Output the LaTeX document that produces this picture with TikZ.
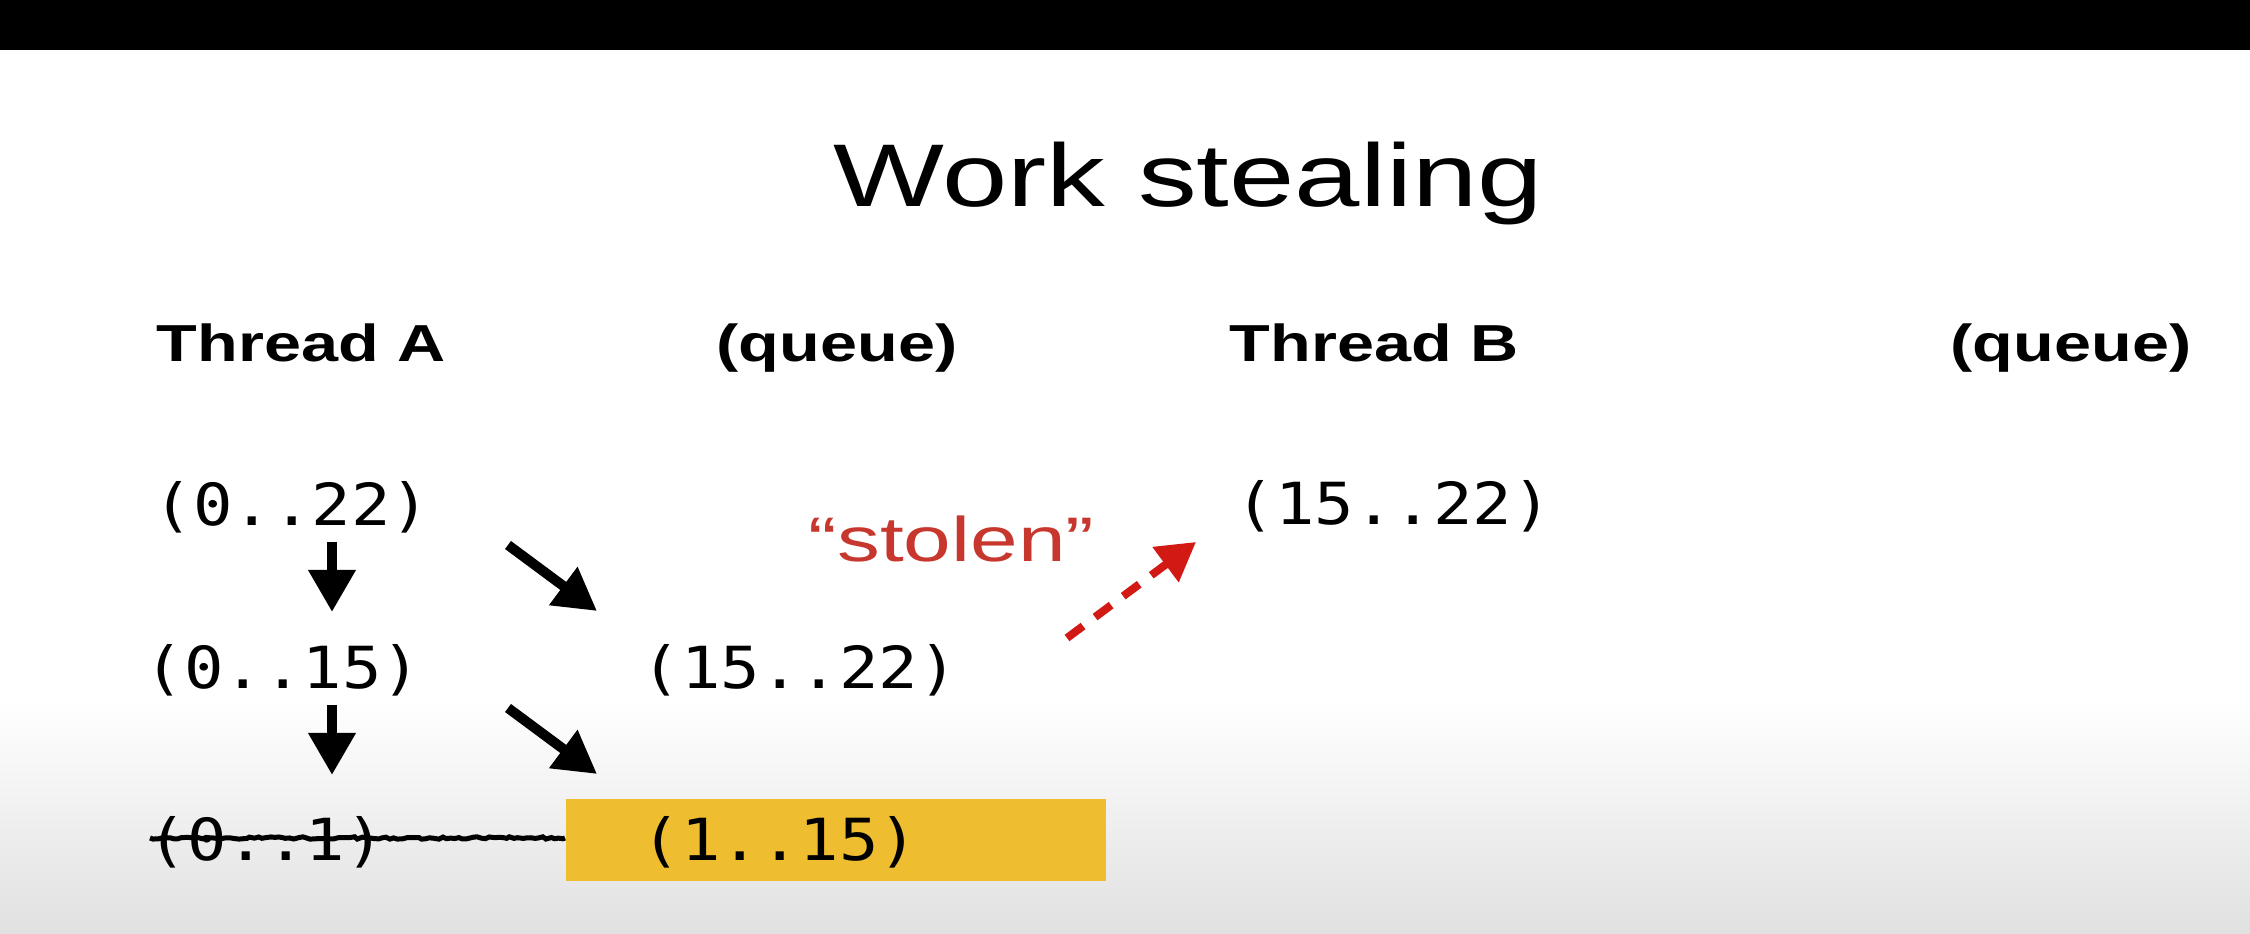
\documentclass[tikz,border=0pt]{standalone}
\usepackage{fontspec}
\usetikzlibrary{arrows.meta,decorations.pathmorphing}
\newfontfamily\titlefont[FakeStretch=1.32]{Liberation Sans}
\newfontfamily\labelfont[FakeStretch=1.28]{Liberation Sans}
\newfontfamily\notefont[FakeStretch=1.36]{Liberation Sans}
\newfontfamily\codefont[FakeStretch=1.13]{DejaVu Sans Mono}
\definecolor{slideyellow}{RGB}{238,190,48}
\definecolor{stolenred}{RGB}{200,55,45}
\definecolor{arrowred}{RGB}{210,25,20}
\begin{document}
\begin{tikzpicture}[x=0.01cm,y=-0.01cm,
  titletext/.style={font=\titlefont\fontsize{25.3}{30}\selectfont, inner sep=0, anchor=base west},
  headtext/.style={font=\labelfont\bfseries\fontsize{14.8}{18}\selectfont, inner sep=0, anchor=base west},
  rangetext/.style={font=\codefont\fontsize{16.5}{20}\selectfont, inner sep=0, anchor=west},
  notetext/.style={font=\notefont\fontsize{17.9}{21}\selectfont, text=stolenred, inner sep=0, anchor=base west},
  split/.style={-{Triangle[length=0.42cm,width=0.45cm]}, line width=0.1cm},
  steal/.style={-{Triangle[length=0.38cm,width=0.42cm]}, line width=0.08cm, arrowred, dash pattern=on 0.2cm off 0.15cm},
]
% page and background
\useasboundingbox (0,0) rectangle (2250,934);
\fill[white] (0,0) rectangle (2250,934);
\shade[top color=white, bottom color=black!12] (0,700) rectangle (2250,934);
\fill[black] (0,0) rectangle (2250,50);

% title and column heads
\node[titletext] (title) at (833,207) {Work stealing};
\node[headtext] (thA) at (156,362) {Thread A};
\node[headtext] (qA) at (716,362) {(queue)};
\node[headtext] (thB) at (1229,362) {Thread B};
\node[headtext] (qB) at (1950,362) {(queue)};

% queue slot holding the remaining work
\node[fill=slideyellow, minimum width=5.4cm, minimum height=0.82cm, inner sep=0, anchor=north west] (slot) at (565,798) {};

% ranges
\node[rangetext] (r022) at (153,507) {(0..22)};
\node[rangetext] (r015) at (144,670) {(0..15)};
\node[rangetext] (q1522) at (641,670) {(15..22)};
\node[rangetext] (b1522) at (1235,506) {(15..22)};
\node[rangetext] (r01) at (147,842) {(0..1)};
\node[rangetext] (q115) at (641,842) {(1..15)};

% struck-out finished range
\coordinate (strikeL) at (150,838);
\draw[line width=0.05cm, decorate, decoration={random steps, segment length=0.04cm, amplitude=0.012cm}] (strikeL) -- (slot.west |- strikeL);

% splitting arrows
\coordinate (d1a) at (332,542);
\coordinate (d1b) at (332,612);
\coordinate (d2a) at (332,705);
\coordinate (d2b) at (332,775);
\coordinate (s1a) at (508,545);
\coordinate (s1b) at (597,611);
\coordinate (s2a) at (508,708);
\coordinate (s2b) at (597,774);
\draw[split] (d1a) -- (d1b);
\draw[split] (d2a) -- (d2b);
\draw[split] (s1a) -- (s1b);
\draw[split] (s2a) -- (s2b);

% steal
\node[notetext] (stolen) at (808,562) {“stolen”};
\coordinate (stealA) at (1067,638);
\coordinate (stealB) at (1196,542);
\draw[steal] (stealA) -- (stealB);
\end{tikzpicture}
\end{document}
